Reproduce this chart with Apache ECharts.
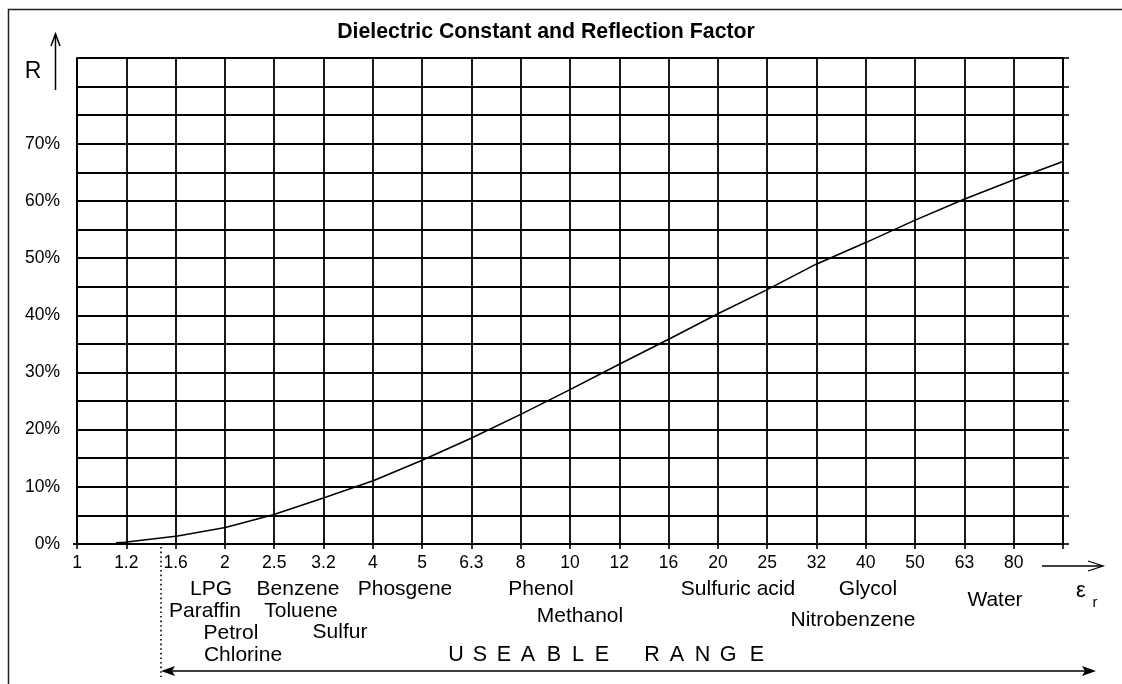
<!DOCTYPE html>
<html>
<head>
<meta charset="utf-8">
<title>Dielectric Constant and Reflection Factor</title>
<script src="https://cdn.jsdelivr.net/npm/echarts@6/dist/echarts.min.js"></script>
<style>
  html, body { margin: 0; padding: 0; background: #fff; }
  #chart { width: 1122px; height: 684px; }
</style>
</head>
<body>
<div id="chart"></div>
<script>
// Relative permittivity (εr) and the matching reflection factor R in percent
const epsilon = [1.2, 1.25, 1.6, 2, 2.5, 3.15, 4, 5, 6.3, 8, 10, 12.5, 16, 20, 25, 31.5, 40, 50, 63, 80, 100];
const reflection = [0.2, 0.3, 1.4, 2.9, 5.1, 8.0, 11.1, 14.6, 18.5, 22.8, 27.0, 31.3, 36.0, 40.3, 44.4, 48.9, 52.8, 56.6, 60.3, 63.8, 66.9];

// Tick labels of the εr axis, one per tenth of a decade
const xTickLabels = ['1', '1.2', '1.6', '2', '2.5', '3.2', '4', '5', '6.3', '8', '10', '12', '16', '20', '25', '32', '40', '50', '63', '80', ''];

// Substances written under the axis
const substances = [
  { name: 'LPG', x: 211, y: 589 },
  { name: 'Paraffin', x: 205, y: 611 },
  { name: 'Petrol', x: 231, y: 633 },
  { name: 'Chlorine', x: 243, y: 655 },
  { name: 'Benzene', x: 298, y: 589 },
  { name: 'Toluene', x: 301, y: 611 },
  { name: 'Sulfur', x: 340, y: 632 },
  { name: 'Phosgene', x: 405, y: 589 },
  { name: 'Phenol', x: 541, y: 589 },
  { name: 'Methanol', x: 580, y: 616 },
  { name: 'Sulfuric acid', x: 738, y: 589 },
  { name: 'Glycol', x: 868, y: 589 },
  { name: 'Nitrobenzene', x: 853, y: 620 },
  { name: 'Water', x: 995, y: 600 }
];

const rangeText = 'USEABLE RANGE';

const FONT = 'Arial, "Liberation Sans", Helvetica, sans-serif';
const INK = '#000';

const chart = echarts.init(document.getElementById('chart'), null, { renderer: 'canvas' });

const seriesData = epsilon.map((e, i) => [Math.log10(e), reflection[i]]);

function label(text, x, y, font) {
  return {
    type: 'text', x: x, y: y,
    style: { text: text, font: font, fill: INK, align: 'center', verticalAlign: 'middle' }
  };
}

// Spaced-out letters of the range caption
const rangeLetters = [];
const letterCenters = [456, 480, 504, 528, 554, 578, 602, null, 652, 677, 702.5, 728, 757];
rangeText.split('').forEach((ch, i) => {
  if (ch === ' ') return;
  rangeLetters.push(label(ch, letterCenters[i], 655, '21.5px ' + FONT));
});

const graphics = [
  // frame
  { type: 'polyline', shape: { points: [[8.5, 684], [8.5, 9.5], [1122, 9.5]] }, style: { stroke: '#222', lineWidth: 1.5, fill: null } },
  // title
  label('Dielectric Constant and Reflection Factor', 546, 32, 'bold 21.3px ' + FONT),
  // R axis arrow
  { type: 'line', shape: { x1: 55.5, y1: 90, x2: 55.5, y2: 34 }, style: { stroke: INK, lineWidth: 1.5 } },
  { type: 'polyline', shape: { points: [[51, 46], [55.5, 34], [60, 46]] }, style: { stroke: INK, lineWidth: 1.5, fill: null } },
  label('R', 33, 72, '23px ' + FONT),
  // εr axis arrow
  { type: 'line', shape: { x1: 1042, y1: 566, x2: 1103, y2: 566 }, style: { stroke: INK, lineWidth: 1.3 } },
  { type: 'polyline', shape: { points: [[1088, 561], [1103, 566], [1088, 571]] }, style: { stroke: INK, lineWidth: 1.3, fill: null } },
  label('ε', 1081, 591, '22px ' + FONT),
  label('r', 1095, 603, '15px ' + FONT),
  // start of the useable range
  { type: 'line', shape: { x1: 161, y1: 547, x2: 161, y2: 677 }, style: { stroke: INK, lineWidth: 1.6, lineDash: [1.6, 3] } },
  // useable range double arrow
  { type: 'line', shape: { x1: 170, y1: 671, x2: 1085, y2: 671 }, style: { stroke: INK, lineWidth: 1.5 } },
  { type: 'polygon', shape: { points: [[161, 671], [175, 666], [172, 671], [175, 676]] }, style: { fill: INK } },
  { type: 'polygon', shape: { points: [[1096, 671], [1082, 666], [1085, 671], [1082, 676]] }, style: { fill: INK } },
  // short stub of the zero line left of the axis
  { type: 'line', shape: { x1: 73, y1: 544, x2: 77, y2: 544 }, style: { stroke: INK, lineWidth: 1.8 } }
];

substances.forEach(s => {
  graphics.push(label(s.name, s.x, s.y, '21px ' + FONT));
});

const option = {
  animation: false,
  backgroundColor: '#fff',
  grid: { left: 77, right: 59, top: 58, bottom: 140, containLabel: false },
  xAxis: {
    type: 'value',
    min: 0, max: 2, interval: 0.1,
    axisLine: { show: true, onZero: false, lineStyle: { color: INK, width: 1.8 } },
    axisTick: { show: true, length: 5, lineStyle: { color: INK, width: 1.6 } },
    splitLine: { show: true, lineStyle: { color: INK, width: 1.8 } },
    axisLabel: {
      show: true, margin: 10, color: INK, fontSize: 17.5, fontFamily: FONT,
      showMinLabel: true, showMaxLabel: true, hideOverlap: false,
      formatter: v => xTickLabels[Math.round(v * 10)] || ''
    }
  },
  yAxis: [
    {
      type: 'value', position: 'left',
      min: 0, max: 85, interval: 5,
      axisLine: { show: true, lineStyle: { color: INK, width: 1.8 } },
      axisTick: { show: false },
      splitLine: { show: true, lineStyle: { color: INK, width: 1.8 } },
      axisLabel: {
        show: true, margin: 17, color: INK, fontSize: 17.5, fontFamily: FONT,
        formatter: v => (v % 10 === 0 && v <= 70) ? v + '%' : ''
      }
    },
    {
      type: 'value', position: 'right',
      min: 0, max: 85, interval: 5,
      axisLine: { show: true, lineStyle: { color: INK, width: 1.8 } },
      axisTick: { show: true, length: 6, lineStyle: { color: INK, width: 1.6 } },
      splitLine: { show: false },
      axisLabel: { show: false }
    }
  ],
  series: [{
    type: 'line',
    data: seriesData,
    yAxisIndex: 0,
    showSymbol: false,
    smooth: false,
    lineStyle: { color: INK, width: 1.6 },
    emphasis: { disabled: true }
  }],
  graphic: graphics.concat(rangeLetters)
};

chart.setOption(option);
</script>
</body>
</html>
